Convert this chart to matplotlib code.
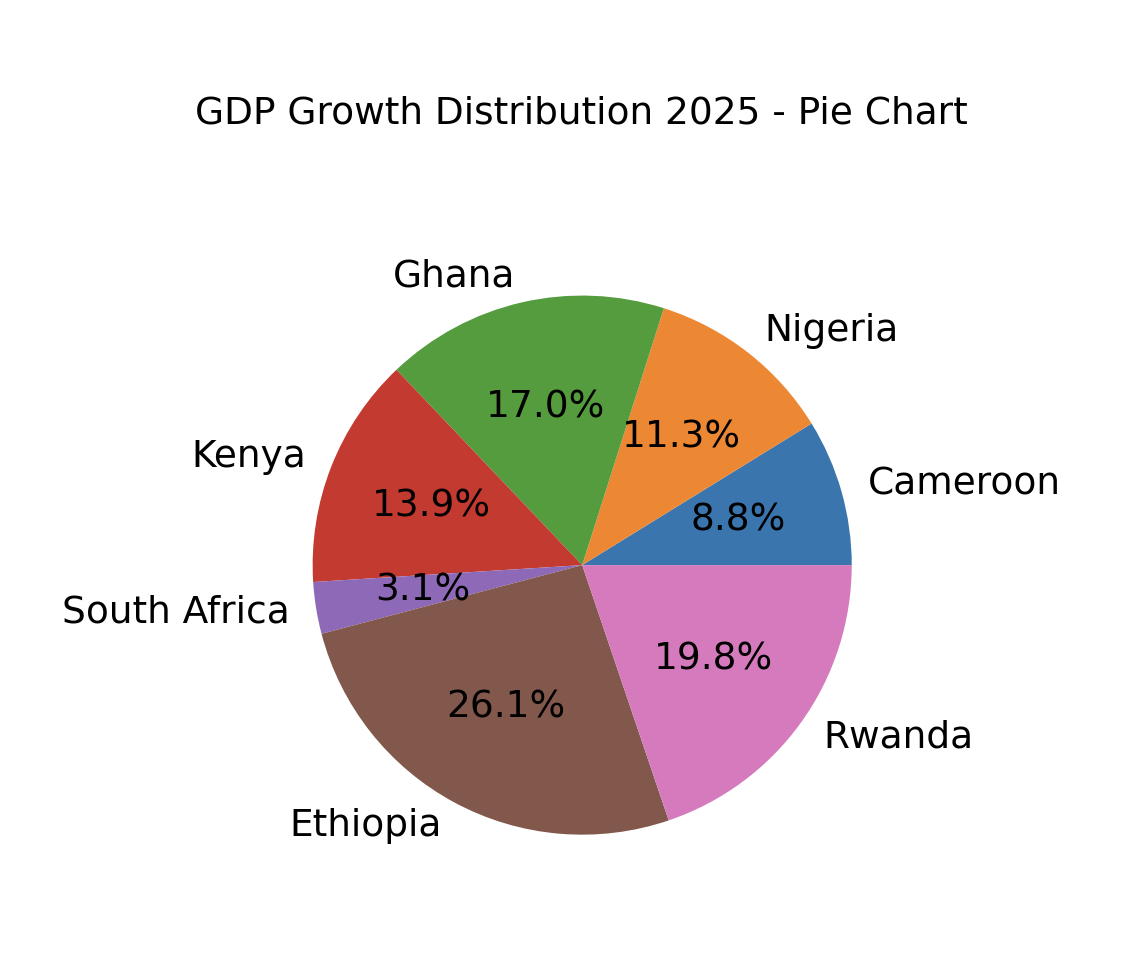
import matplotlib
matplotlib.use('Agg')
from matplotlib import pyplot as plt

countries = ['Cameroon', 'Nigeria', 'Ghana', 'Kenya', 'South Africa', 'Ethiopia', 'Rwanda']
growth = [8.8, 11.3, 17.0, 13.9, 3.1, 26.1, 19.8]
colors = ['#3a75ae', '#ec8734', '#559c3e', '#c33a31', '#8e69b8', '#82574c', '#d57bbd']

fig = plt.figure(figsize=(5.625, 4.83), dpi=200)
ax = fig.add_axes([0.218, 0.066, 0.599, 0.698])
ax.pie(growth, labels=colors and countries, colors=colors, autopct='%1.1f%%',
       textprops={'fontsize': 13.5})
ax.set_aspect('equal')
fig.text(0.517, 0.883, 'GDP Growth Distribution 2025 - Pie Chart',
         ha='center', va='center', fontsize=13.5)

plt.savefig('out.png')
